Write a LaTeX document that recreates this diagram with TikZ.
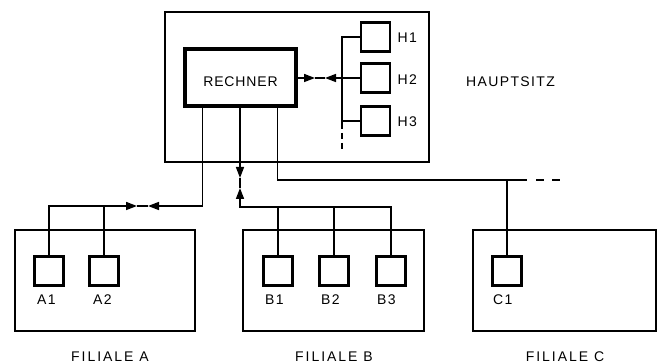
\documentclass[tikz,border=0pt]{standalone}
\usepackage{fontspec}
\setmainfont{Liberation Sans}
\newfontfamily\cpufont[LetterSpace=6]{Liberation Sans}
\newfontfamily\termfont[LetterSpace=9]{Liberation Sans}
\newfontfamily\hqfont[LetterSpace=10]{Liberation Sans}
\newfontfamily\brfont[LetterSpace=14]{Liberation Sans}
\usetikzlibrary{arrows.meta}
\begin{document}
\begin{tikzpicture}[x=1pt,y=-1pt,
  every node/.style={inner sep=0pt},
  txt/.style={font=#1\fontsize{14}{16}\selectfont},
  conn/.style={line width=1.6pt},
  tip/.style={conn,-{Triangle[length=11pt,width=8pt]}},
  hqbox/.style={draw, line width=1.8pt, minimum width=264pt, minimum height=150pt},
  cpubox/.style={draw, line width=4pt, minimum width=111pt, minimum height=57pt},
  branchbox/.style={draw, line width=1.8pt, minimum width=#1, minimum height=101pt},
  termbox/.style={draw, line width=2.8pt, minimum width=29pt, minimum height=29pt},
  lbl/.style={anchor=west, txt=\termfont}
]
\useasboundingbox (0,0) rectangle (659,363);
% headquarters
\node[hqbox] (haupt) at (297,87) {};
\node[cpubox] (rechner) at (240,78) {};
\node[txt=\cpufont] (lrechner) at (240.5,82) {RECHNER};
\node[termbox] (h1) at (375.5,37) {};
\node[termbox] (h2) at (375.5,78) {};
\node[termbox] (h3) at (375.5,121) {};
\node[lbl] (lh1) at (397.5,38) {H1};
\node[lbl] (lh2) at (397.5,80) {H2};
\node[lbl] (lh3) at (397.5,122) {H3};
\node[txt=\hqfont] (lhaupt) at (510.5,82) {HAUPTSITZ};
% local bus
\coordinate (bt) at (342,37);
\coordinate (bb) at (342,129);
\coordinate (bd) at (342,150);
\draw[conn] (h1.west) -- (bt) -- (bb);
\draw[conn, dash pattern=on 6pt off 4pt] ([yshift=-4pt]bb) -- (bd);
\draw[conn] (h3.west) -- (h3.west -| bt);
\coordinate (th1) at (315,78);
\coordinate (th2) at (325,78);
\draw[tip] (rechner.east) -- (th1);
\draw[tip] (h2.west) -- (th2);
\draw[conn] (th1) -- (th2);
% branches
\node[branchbox=180pt] (fa) at (105,280.5) {};
\node[branchbox=181pt] (fb) at (333.5,280.5) {};
\node[branchbox=183pt] (fc) at (564.5,280.5) {};
\node[termbox] (a1) at (49,271) {};
\node[termbox] (a2) at (104,271) {};
\node[termbox] (b1) at (278,271) {};
\node[termbox] (b2) at (334,271) {};
\node[termbox] (b3) at (391,271) {};
\node[termbox] (c1) at (507,271) {};
\node[lbl] (la1) at (37,299.5) {A1};
\node[lbl] (la2) at (93,299.5) {A2};
\node[lbl] (lb1) at (265,299.5) {B1};
\node[lbl] (lb2) at (321,299.5) {B2};
\node[lbl] (lb3) at (377,299.5) {B3};
\node[lbl] (lc1) at (493,299.5) {C1};
\node[txt=\brfont] (lfa) at (110,356.5) {FILIALE A};
\node[txt=\brfont] (lfb) at (334,356.5) {FILIALE B};
\node[txt=\brfont] (lfc) at (565,356.5) {FILIALE C};
% line to branch A
\coordinate (ta1) at (137,206);
\coordinate (ta2) at (148,206);
\draw[tip] ([xshift=20pt]rechner.south west) |- (ta2);
\draw[tip] (a1.north) |- (ta1);
\draw[conn] (ta1) -- (ta2);
\draw[conn] (a2.north) -- (a2.north |- ta1);
% line to branch B
\coordinate (tb1) at (240,178);
\coordinate (tb2) at (240,188);
\coordinate (jb) at (240,207);
\draw[tip] (rechner.south) -- (tb1);
\draw[tip] (b3.north) |- (jb) -- (tb2);
\draw[conn] (tb1) -- (tb2);
\draw[conn] (b1.north) -- (b1.north |- jb);
\draw[conn] (b2.north) -- (b2.north |- jb);
% line to branch C
\coordinate (jc) at (527,180);
\coordinate (jd) at (536,180);
\coordinate (je) at (560,180);
\draw[conn] ([xshift=-20pt]rechner.south east) |- (jc);
\draw[conn, dash pattern=on 7.5pt off 8.5pt] (jd) -- (je);
\draw[conn] (c1.north) -- (c1.north |- jc);
\end{tikzpicture}
\end{document}
